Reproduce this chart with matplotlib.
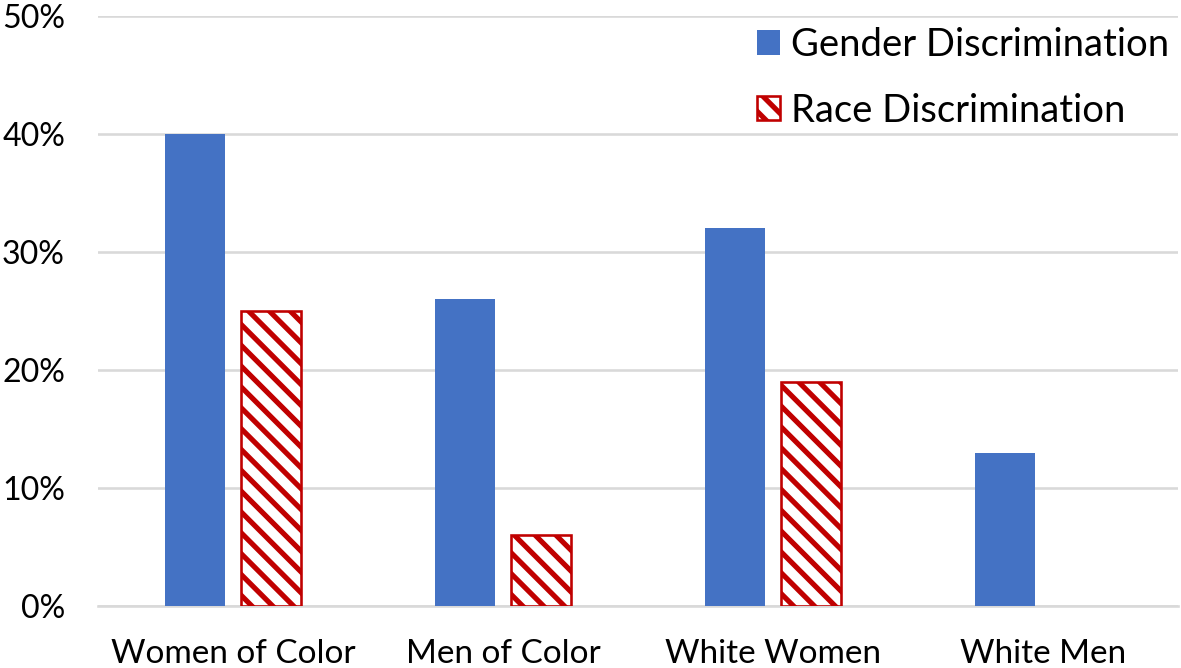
import matplotlib.pyplot as plt
import numpy as np

# data
groups = ["Women of Color", "Men of Color", "White Women", "White Men"]
gender = [0.40, 0.26, 0.32, 0.13]
race = [0.25, 0.06, 0.19, np.nan]
yticks = [0.0, 0.1, 0.2, 0.3, 0.4, 0.5]
ytick_labels = ["0%", "10%", "20%", "30%", "40%", "50%"]

plt.rcParams['font.family'] = ['Lato', 'DejaVu Sans']
plt.rcParams['hatch.linewidth'] = 3.0

fig = plt.figure(figsize=(1181 / 125, 668 / 125), dpi=125)
ax = fig.add_axes([98 / 1181, 62 / 668, 1080 / 1181, 590 / 668])

x = np.arange(len(groups))
w = 0.222
ax.bar(x - 0.14, gender, w, color='#4472C4', label='Gender Discrimination', zorder=3)
ax.bar(x + 0.14, race, w, facecolor='white', edgecolor='#C00000', hatch='\\\\',
       linewidth=1.5, label='Race Discrimination', zorder=3)

ax.set_xlim(-0.5, 3.5)
ax.set_ylim(0, 0.5)
ax.set_yticks(yticks)
ax.set_yticklabels(ytick_labels)
ax.set_xticks(x)
ax.set_xticklabels(groups)
ax.tick_params(axis='y', length=0, pad=19, labelsize=18.5)
ax.tick_params(axis='x', length=0, pad=19, labelsize=19.2)

ax.grid(axis='y', color='#D9D9D9', linewidth=1.5, zorder=0)
for s in ['top', 'right', 'left']:
    ax.spines[s].set_visible(False)
ax.spines['bottom'].set_color('#D9D9D9')
ax.spines['bottom'].set_linewidth(1.5)

ax.legend(loc='upper left', bbox_to_anchor=(757 / 1181, 1 - 27 / 668),
          bbox_transform=fig.transFigure, frameon=False, fontsize=22,
          handlelength=0.6, handleheight=0.6, handletextpad=0.3,
          labelspacing=0.78, borderpad=0, borderaxespad=0)

fig.savefig('out.png', dpi=125)
